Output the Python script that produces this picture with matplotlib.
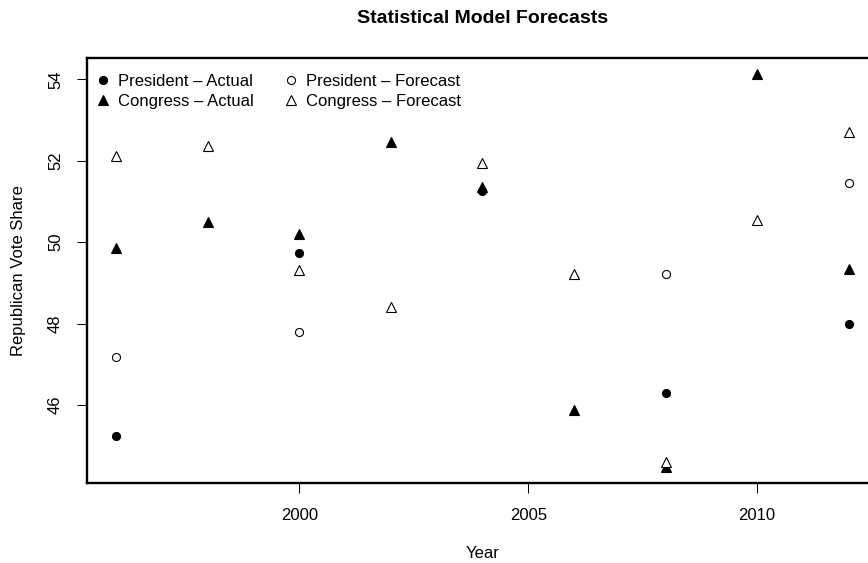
import numpy as np
import matplotlib
matplotlib.use('Agg')
import matplotlib.pyplot as plt

plt.rcParams['font.family'] = ['Liberation Sans', 'DejaVu Sans']

# values
pres_years = [1996, 2000, 2008, 2012]
pres_actual = [45.25, 49.74, 46.29, 47.99]
pres_forecast = [47.18, 47.79, 49.21, 51.46]

cong_years = [1996, 1998, 2000, 2002, 2004, 2006, 2008, 2010, 2012]
cong_actual = [49.87, 50.49, 50.20, 52.46, 51.36, 45.88, 44.47, 54.14, 49.34]
cong_forecast = [52.11, 52.37, 49.32, 48.41, 51.94, 49.21, 44.59, 50.54, 52.70]

# 2004 president actual sits under the congress triangle
pres_years_2004 = [2004]
pres_actual_2004 = [51.27]

fig = plt.figure(figsize=(8.68, 5.63), dpi=100)
# plot region runs a little past the right edge, as in the reference
ax = fig.add_axes([87/868, 80/563, 791/868, 425/563])

ms_c = 5.8
ms_t = 7.2
ew = 0.8
ax.plot(pres_years + pres_years_2004, pres_actual + pres_actual_2004, 'o', color='black',
        ms=ms_c, mew=ew, linestyle='none', label='President \u2013 Actual')
ax.plot(cong_years, cong_actual, '^', color='black', ms=ms_t, mew=ew,
        linestyle='none', label='Congress \u2013 Actual')
ax.plot(pres_years, pres_forecast, 'o', mfc='white', mec='black', ms=ms_c, mew=ew,
        linestyle='none', label='President \u2013 Forecast')
ax.plot(cong_years, cong_forecast, '^', mfc='white', mec='black', ms=ms_t, mew=ew,
        linestyle='none', label='Congress \u2013 Forecast')

ax.margins(x=0.04, y=0.04)
ax.set_xticks([2000, 2005, 2010])
ax.set_yticks([46, 48, 50, 52, 54])

for s in ax.spines.values():
    s.set_linewidth(1.7)
ax.tick_params(direction='out', length=7.2, width=0.75, labelsize=12)
ax.tick_params(axis='x', pad=11)
ax.tick_params(axis='y', pad=10, labelrotation=90)
for lab in ax.get_yticklabels():
    lab.set_va('center')

ax.set_title('Statistical Model Forecasts', fontsize=14, fontweight='bold', pad=25)
ax.set_xlabel('Year', fontsize=12)
ax.set_ylabel('Republican Vote Share', fontsize=12)
ax.xaxis.set_label_coords(0.5, -0.148)
ax.yaxis.set_label_coords(-0.077, 0.5)

ax.legend(loc='upper left', bbox_to_anchor=(0.0094, 0.962), ncol=2, frameon=False,
          fontsize=12, handlelength=1.0, handletextpad=0.42, columnspacing=1.7,
          labelspacing=0.3, borderpad=0, borderaxespad=0)

fig.savefig('out.png', dpi=100)
